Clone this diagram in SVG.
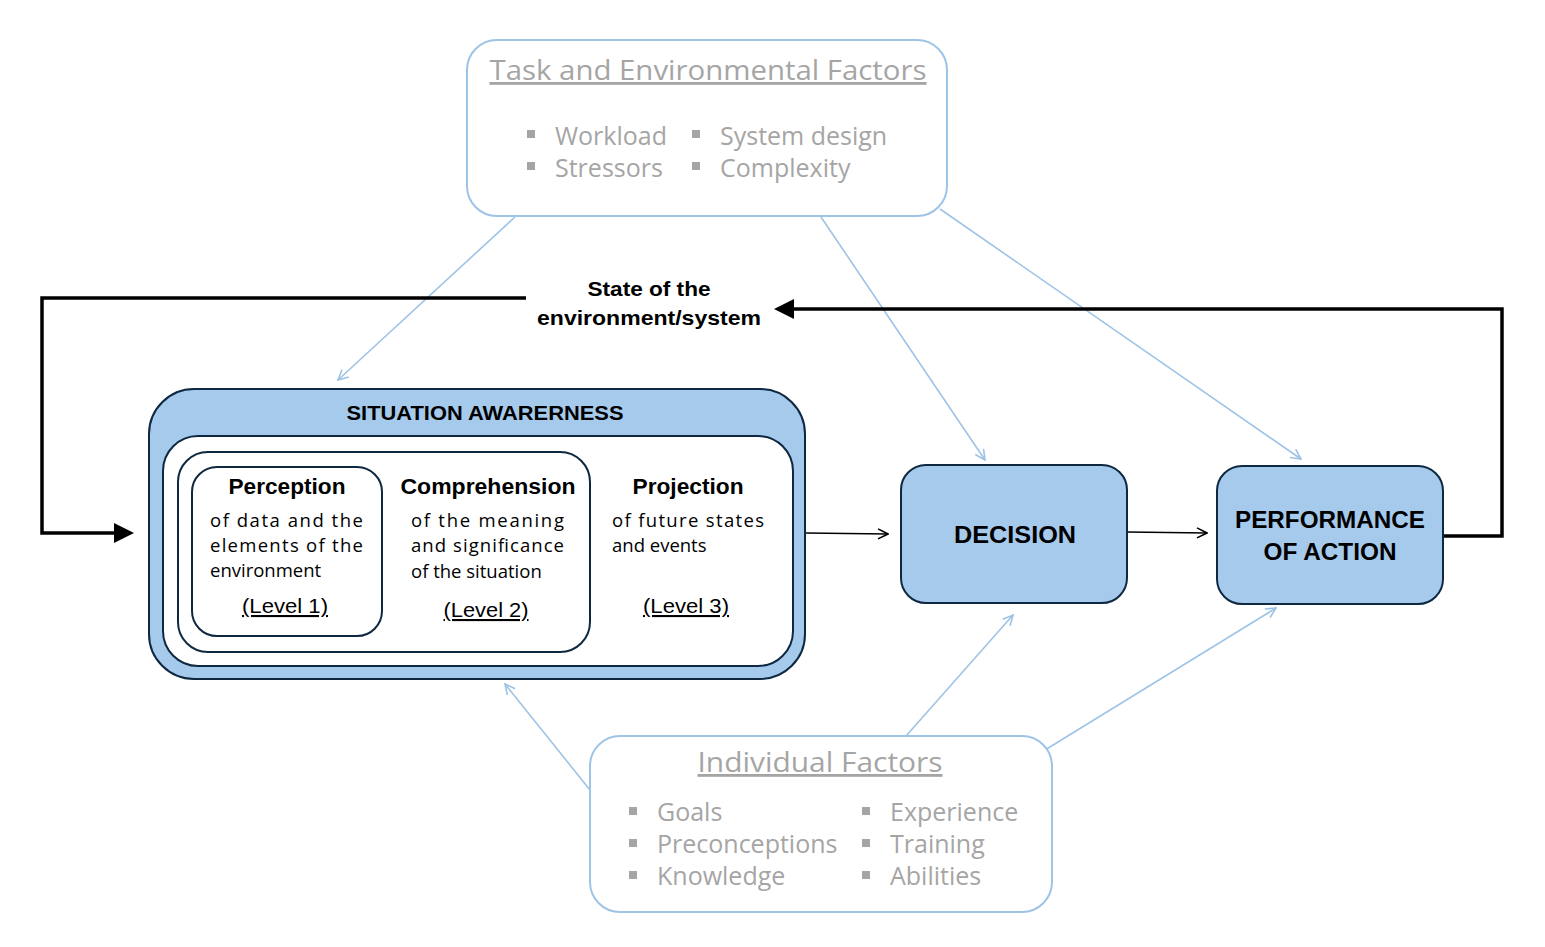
<svg xmlns="http://www.w3.org/2000/svg" width="1545" height="947" viewBox="0 0 1545 947">
<defs>
<style>
.fbox{fill:#fff;stroke:#9DC3E6;stroke-width:2}
.gt{font-family:"Open Sans",sans-serif;fill:#A5A5A5}
.gh{font-size:28px;text-decoration:underline}
.gb{font-size:25px}
.sq{fill:#A5A5A5}
.blue{fill:#A6CAEC;stroke:#0E2841;stroke-width:2}
.wbox{fill:#fff;stroke:#0E2841;stroke-width:2}
.bt{font-family:"Liberation Sans",Arial,sans-serif;fill:#000}
.hd{font-weight:bold}
.body{font-family:"Open Sans",sans-serif;font-size:18.5px;fill:#000}
.lv{font-family:"Liberation Sans",Arial,sans-serif;font-size:21px;text-decoration:underline;fill:#000}
.lb{stroke:#9DC3E6;stroke-width:1.6;fill:none}
.fb{stroke:#000;stroke-width:3.5;fill:none}
.tn{stroke:#000;stroke-width:1.6;fill:none}
</style>
<marker id="ab" viewBox="0 0 12 12" refX="11" refY="6" markerWidth="12" markerHeight="12" markerUnits="userSpaceOnUse" orient="auto"><path d="M1,1 L11,6 L1,11" fill="none" stroke="#9DC3E6" stroke-width="1.6"/></marker>
<marker id="ak" viewBox="0 0 12 12" refX="11" refY="6" markerWidth="12" markerHeight="12" markerUnits="userSpaceOnUse" orient="auto"><path d="M1,1 L11,6 L1,11" fill="none" stroke="#000" stroke-width="1.6"/></marker>
</defs>
<rect width="1545" height="947" fill="#fff"/>

<g id="connectors">
<line class="lb" x1="515" y1="217" x2="338" y2="380" marker-end="url(#ab)"/>
<line class="lb" x1="821" y1="217" x2="985" y2="460" marker-end="url(#ab)"/>
<line class="lb" x1="940" y1="209" x2="1301" y2="459" marker-end="url(#ab)"/>
<line class="lb" x1="590" y1="790" x2="505" y2="684" marker-end="url(#ab)"/>
<line class="lb" x1="906" y1="736" x2="1013" y2="615" marker-end="url(#ab)"/>
<line class="lb" x1="1045" y1="750" x2="1276" y2="608" marker-end="url(#ab)"/>
<line class="tn" x1="806" y1="533" x2="888" y2="534" marker-end="url(#ak)"/>
<line class="tn" x1="1127" y1="532" x2="1207" y2="533" marker-end="url(#ak)"/>
<polyline class="fb" points="526,298 42,298 42,533 116,533"/>
<path d="M114,523 L134,533 L114,543 Z" fill="#000"/>
<polyline class="fb" points="1443,536 1502,536 1502,309 792,309"/>
<path d="M794,299 L774,309 L794,319 Z" fill="#000"/>
</g>

<g id="task-factors">
<rect class="fbox" x="467" y="40" width="480" height="176" rx="30"/>
<text class="gt gh" x="708" y="80" text-anchor="middle" textLength="437" lengthAdjust="spacingAndGlyphs">Task and Environmental Factors</text>
<rect class="sq" x="527" y="130" width="8" height="8"/>
<rect class="sq" x="527" y="162" width="8" height="8"/>
<rect class="sq" x="692" y="130" width="8" height="8"/>
<rect class="sq" x="692" y="162" width="8" height="8"/>
<text class="gt gb" x="555" y="145">Workload</text>
<text class="gt gb" x="555" y="177">Stressors</text>
<text class="gt gb" x="720" y="145">System design</text>
<text class="gt gb" x="720" y="177">Complexity</text>
</g>

<g id="state-label">
<text class="bt hd" x="649" y="296" font-size="21" text-anchor="middle" textLength="123" lengthAdjust="spacingAndGlyphs">State of the</text>
<text class="bt hd" x="649" y="325" font-size="21" text-anchor="middle" textLength="224" lengthAdjust="spacingAndGlyphs">environment/system</text>
</g>

<g id="situation-awareness">
<rect class="blue" x="149" y="389" width="656" height="290" rx="45"/>
<text class="bt hd" x="485" y="420" font-size="21" text-anchor="middle" textLength="277" lengthAdjust="spacingAndGlyphs">SITUATION AWARERNESS</text>
<rect class="wbox" x="163" y="436" width="630" height="230" rx="35"/>
<rect class="wbox" x="178" y="452" width="412" height="200" rx="30"/>
<rect class="wbox" x="192" y="467" width="190" height="169" rx="25"/>
</g>

<g id="perception">
<text class="bt hd" x="287" y="494" font-size="22" text-anchor="middle" textLength="117" lengthAdjust="spacingAndGlyphs">Perception</text>
<text class="body" x="210" y="527" textLength="153" lengthAdjust="spacing">of data and the</text>
<text class="body" x="210" y="552" textLength="153" lengthAdjust="spacing">elements of the</text>
<text class="body" x="210" y="577">environment</text>
<text class="lv" x="285" y="613" text-anchor="middle" textLength="86" lengthAdjust="spacingAndGlyphs">(Level 1)</text>
</g>

<g id="comprehension">
<text class="bt hd" x="488" y="494" font-size="22" text-anchor="middle" textLength="175" lengthAdjust="spacingAndGlyphs">Comprehension</text>
<text class="body" x="411" y="527" textLength="153" lengthAdjust="spacing">of the meaning</text>
<text class="body" x="411" y="552" textLength="153" lengthAdjust="spacing">and significance</text>
<text class="body" x="411" y="578">of the situation</text>
<text class="lv" x="486" y="617" text-anchor="middle" textLength="85" lengthAdjust="spacingAndGlyphs">(Level 2)</text>
</g>

<g id="projection">
<text class="bt hd" x="688" y="494" font-size="22" text-anchor="middle" textLength="111" lengthAdjust="spacingAndGlyphs">Projection</text>
<text class="body" x="612" y="527" textLength="152" lengthAdjust="spacing">of future states</text>
<text class="body" x="612" y="552">and events</text>
<text class="lv" x="686" y="613" text-anchor="middle" textLength="86" lengthAdjust="spacingAndGlyphs">(Level 3)</text>
</g>

<g id="decision">
<rect class="blue" x="901" y="465" width="226" height="138" rx="25"/>
<text class="bt hd" x="1015" y="543" font-size="24" text-anchor="middle" textLength="122" lengthAdjust="spacingAndGlyphs">DECISION</text>
</g>

<g id="performance">
<rect class="blue" x="1217" y="466" width="226" height="138" rx="25"/>
<text class="bt hd" x="1330" y="528" font-size="24" text-anchor="middle" textLength="190" lengthAdjust="spacingAndGlyphs">PERFORMANCE</text>
<text class="bt hd" x="1330" y="560" font-size="24" text-anchor="middle" textLength="133" lengthAdjust="spacingAndGlyphs">OF ACTION</text>
</g>

<g id="individual-factors">
<rect class="fbox" x="590" y="736" width="462" height="176" rx="30"/>
<text class="gt gh" x="820" y="772" text-anchor="middle" textLength="245" lengthAdjust="spacingAndGlyphs">Individual Factors</text>
<rect class="sq" x="629" y="807" width="8" height="8"/>
<rect class="sq" x="629" y="839" width="8" height="8"/>
<rect class="sq" x="629" y="871" width="8" height="8"/>
<rect class="sq" x="862" y="807" width="8" height="8"/>
<rect class="sq" x="862" y="839" width="8" height="8"/>
<rect class="sq" x="862" y="871" width="8" height="8"/>
<text class="gt gb" x="657" y="821">Goals</text>
<text class="gt gb" x="657" y="853">Preconceptions</text>
<text class="gt gb" x="657" y="885">Knowledge</text>
<text class="gt gb" x="890" y="821">Experience</text>
<text class="gt gb" x="890" y="853">Training</text>
<text class="gt gb" x="890" y="885">Abilities</text>
</g>
</svg>
